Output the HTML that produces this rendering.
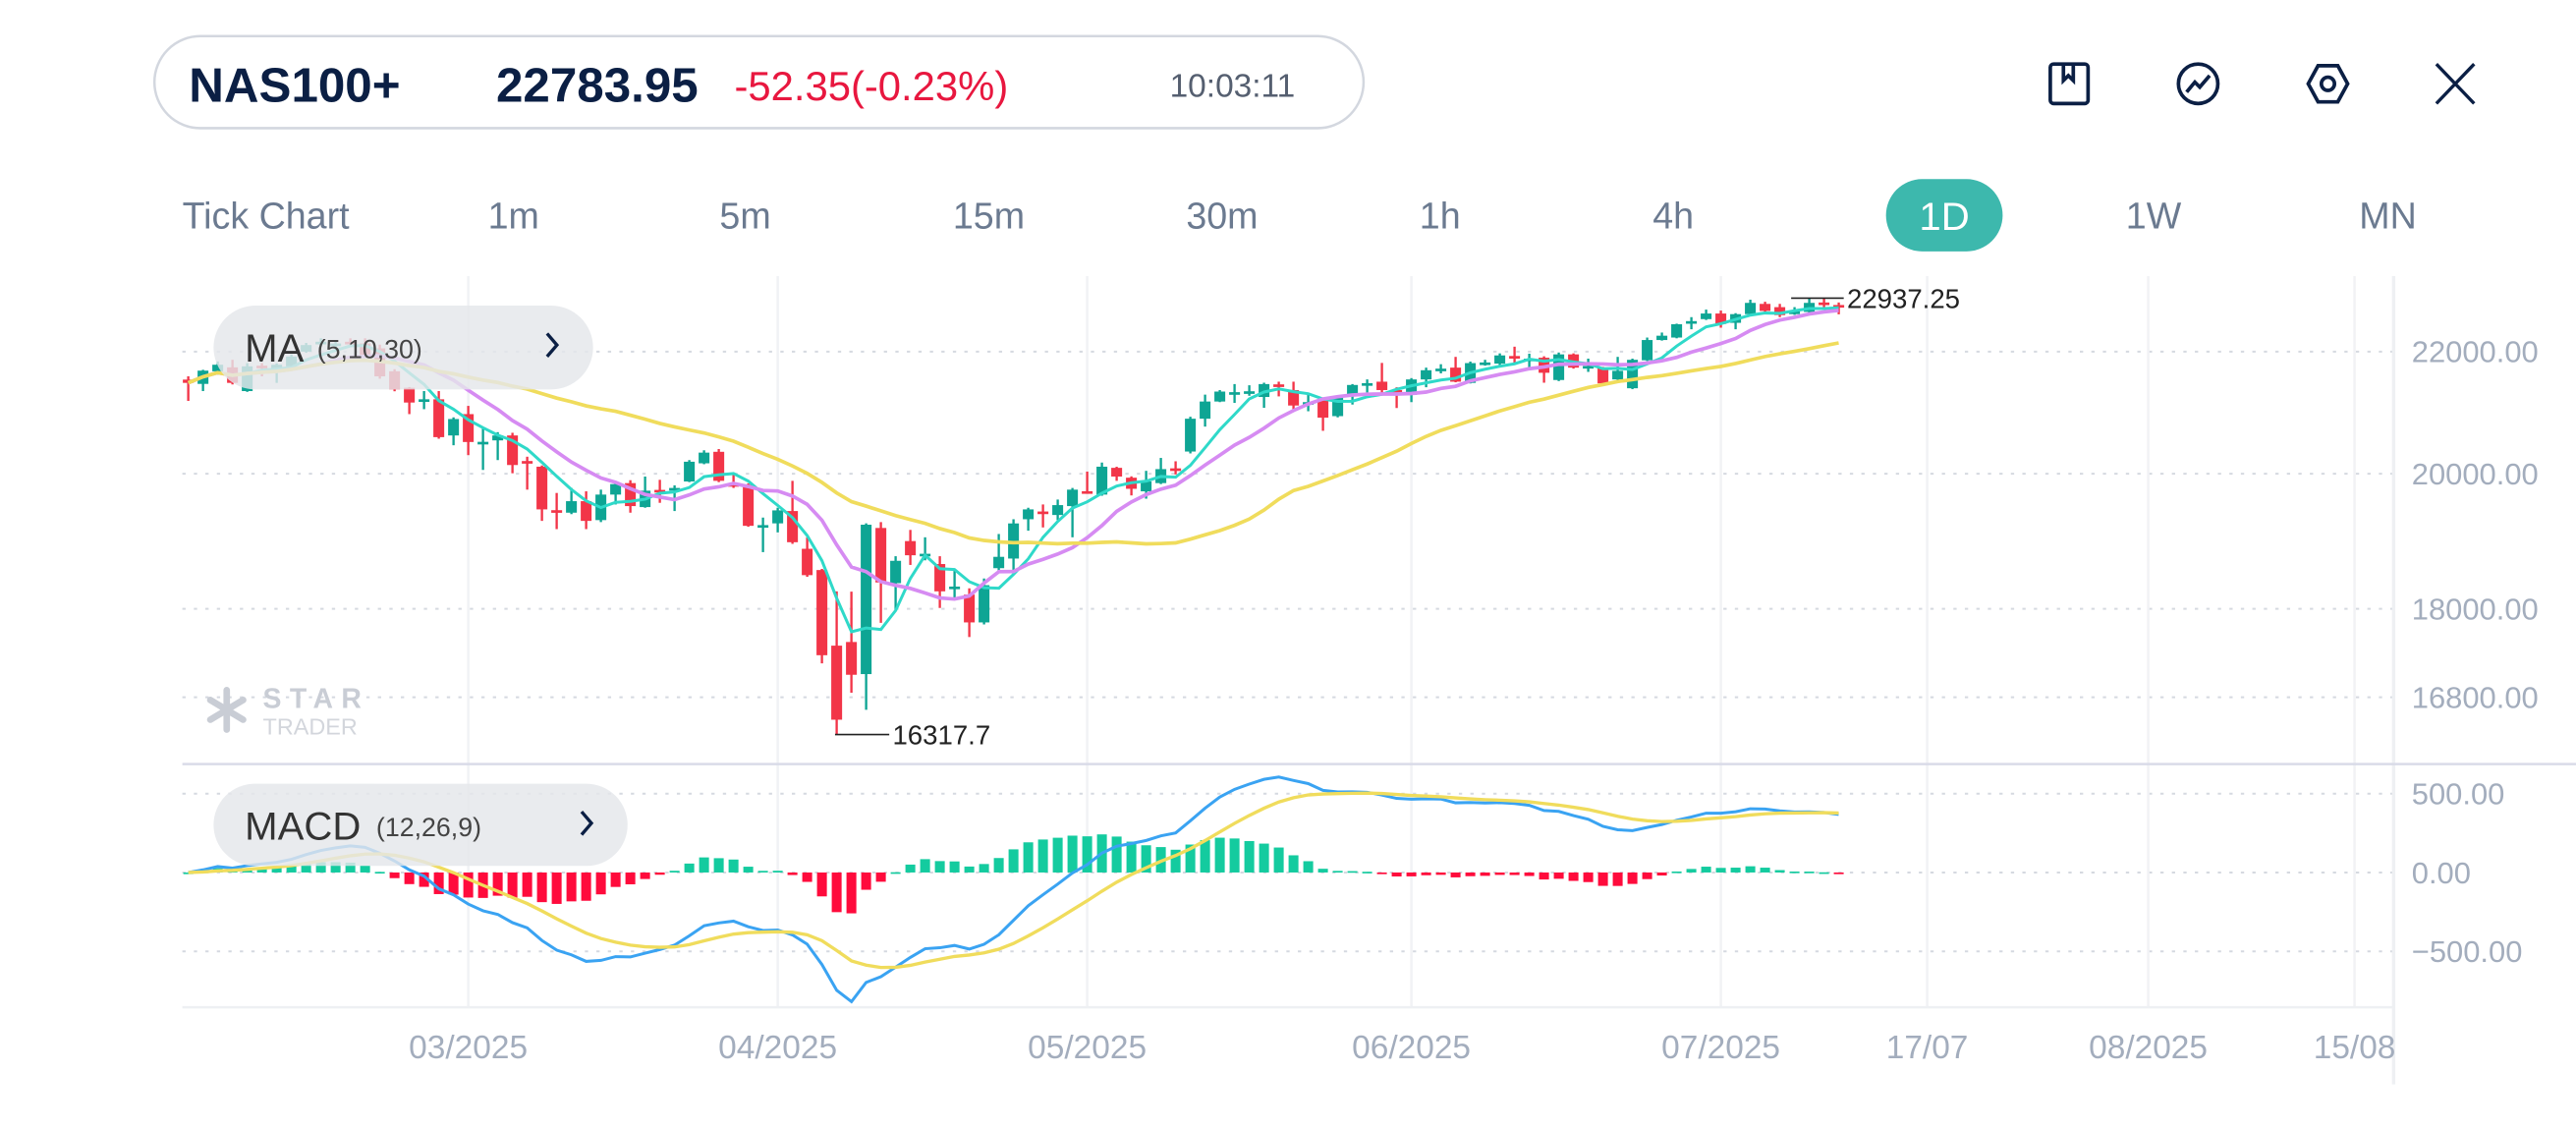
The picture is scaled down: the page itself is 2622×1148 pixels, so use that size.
<!DOCTYPE html>
<html><head><meta charset="utf-8"><style>
html,body{margin:0;padding:0;background:#fff;}
svg{display:block;}
text{font-family:"Liberation Sans",sans-serif;}
</style></head><body>
<svg id="chart" width="2622" height="1148" viewBox="0 0 1568 686.5" preserveAspectRatio="none" xmlns="http://www.w3.org/2000/svg">
<g>
<rect x="94" y="22" width="736" height="56" rx="28" fill="#fff" stroke="#d3d7df" stroke-width="1.5"/>
<text x="115" y="62" font-size="29.5" font-weight="bold" fill="#0b1f44">NAS100+</text>
<text x="302" y="62" font-size="29.5" font-weight="bold" fill="#0b1f44">22783.95</text>
<text x="447" y="61" font-size="25" fill="#e8173f">-52.35(-0.23%)</text>
<text x="712" y="59" font-size="20" fill="#555f70">10:03:11</text>
<g fill="none" stroke="#0b1f44" stroke-width="2.2"><rect x="1248" y="39" width="23" height="24" rx="2"/><path d="M1256 39v10l3-3 3 3V39"/></g>
<g fill="none" stroke="#0b1f44" stroke-width="2.2"><circle cx="1338" cy="51" r="12"/><path d="M1331 56l5-6 3 3 6-7"/></g>
<g fill="none" stroke="#0b1f44" stroke-width="2.2"><path d="M1411 40h12l6 11-6 11h-12l-6-11z"/><circle cx="1417" cy="51" r="4"/></g>
<g stroke="#0b1f44" stroke-width="2"><path d="M1483 39l23 24M1506 39l-23 24"/></g>
</g>
<g font-size="22.5" fill="#6b7a90">
<text x="111" y="139">Tick Chart</text>
<text x="297" y="139">1m</text>
<text x="438" y="139">5m</text>
<text x="580" y="139">15m</text>
<text x="722" y="139">30m</text>
<text x="864" y="139">1h</text>
<text x="1006" y="139">4h</text>
<rect x="1148" y="109" width="71" height="44" rx="22" fill="#3db8ad"/>
<text x="1183.5" y="140" text-anchor="middle" fill="#fff" font-size="24">1D</text>
<text x="1294" y="139">1W</text>
<text x="1436" y="139">MN</text>
</g>
<g id="grid"></g>
<g id="watermark" fill="#c9cdd5">
<g stroke="#c9cdd5" stroke-width="4" stroke-linecap="round"><path d="M138 420v24M128 426l20 12M148 426l-20 12"/></g>
<text x="160" y="431" font-size="17" font-weight="bold" letter-spacing="5">STAR</text>
<text x="160" y="447" font-size="14" fill="#d3d6dc">TRADER</text>
</g>
<g id="candles"></g>
<g id="malines"></g>
<g id="macd"></g>
<g id="axes"></g>
<g>
<rect x="130" y="186" width="231" height="51" rx="25.5" fill="#e4e6ea" fill-opacity="0.82"/>
<text x="149" y="220" font-size="24" fill="#333">MA</text>
<text x="193" y="218" font-size="16" fill="#444">(5,10,30)</text>
<path d="M333 203l6 7-6 7" fill="none" stroke="#0b1f44" stroke-width="2"/>
</g>
<g>
<rect x="130" y="477" width="252" height="50" rx="25" fill="#e4e6ea" fill-opacity="0.82"/>
<text x="149" y="511" font-size="24" fill="#333">MACD</text>
<text x="229" y="509" font-size="16" fill="#444">(12,26,9)</text>
<path d="M354 494l6 7-6 7" fill="none" stroke="#0b1f44" stroke-width="2"/>
</g>
</svg>
<script>
const opens=[21525,21453,21665,21732,21333,21760,21720,21749,22000,22150,22110,22170,22140,22056,21665,21388,21180,21197,20607,20953,20490,20528,20607,20200,20111,19440,19402,19577,19290,19678,19855,19487,19750,19765,19880,20164,20346,19840,19830,19190,19241,19427,18863,18553,17490,17540,17106,19172,18364,18977,18775,18640,18300,18201,17810,18580,18720,19303,19420,19367,19502,19730,19678,20093,19939,19728,19855,20085,20350,20878,21160,21300,21318,21235,21445,21350,21140,21180,20920,21245,21455,21490,21350,21271,21528,21700,21727,21470,21805,21795,21925,21870,21896,21518,21953,21745,21727,21528,21380,21852,22200,22243,22515,22565,22664,22500,22653,22835,22777,22653,22693,22860,22815];
const highs=[21580,21690,21832,21860,21804,21804,21800,21950,22150,22230,22200,22230,22230,22120,21700,21400,21333,21333,20900,21088,20714,20660,20650,20268,20130,19703,19779,19728,19754,19880,19900,19957,19906,19820,20215,20370,20390,20008,19850,19328,19477,19890,19033,18570,18247,18243,19241,19260,18754,19143,19033,18754,18550,18290,18431,19082,19303,19477,19527,19602,19780,20034,20176,20110,19960,20046,20249,20196,20910,21274,21350,21450,21430,21473,21490,21490,21287,21200,21260,21450,21528,21807,21397,21550,21727,21785,21910,21830,21860,21970,22085,21965,21920,21985,21970,21880,21740,21910,21880,22243,22330,22485,22600,22733,22716,22670,22910,22873,22835,22777,22937,22937,22860];
const lows=[21170,21333,21608,21444,21320,21580,21470,21700,21980,22100,22080,22120,21900,21540,21330,20953,21034,20555,20450,20293,20060,20215,20008,19754,19278,19155,19380,19155,19260,19527,19402,19477,19552,19427,19870,20150,19870,19780,19190,18814,19106,18936,18455,17250,16318,16860,16636,17805,17966,18627,18694,18012,18155,17608,17782,18527,18515,19131,19180,19290,19033,19690,19660,19890,19665,19615,19840,19990,20320,20750,21150,21137,21255,21056,21245,21029,21000,20682,20900,21110,21310,21271,21053,21150,21397,21630,21480,21460,21760,21743,21785,21727,21473,21500,21710,21655,21435,21520,21365,21840,22190,22230,22387,22550,22415,22387,22640,22693,22600,22640,22680,22733,22650];
const closes=[21470,21676,21776,21470,21749,21740,21776,21916,22113,22170,22140,22160,21944,21580,21360,21143,21197,20580,20873,20502,20505,20607,20137,20190,19452,19420,19577,19278,19678,19840,19502,19738,19730,19780,20189,20333,19890,19820,19204,19215,19437,18960,18479,17360,16508,17097,19221,18374,18687,18768,18790,18247,18315,17810,18335,18745,19240,19452,19395,19517,19754,19715,20111,19957,19767,19880,20073,20065,20878,21160,21325,21315,21330,21450,21430,21094,21150,20895,21245,21435,21465,21350,21322,21528,21683,21710,21490,21804,21815,21935,21916,21880,21640,21953,21727,21755,21462,21673,21860,22200,22275,22475,22530,22664,22480,22653,22853,22710,22636,22710,22853,22845,22784];
const priceTicks=[22000,20000,18000,16800];
const macdTicks=[500,0,-500];
const dateLabels=["03/2025","04/2025","05/2025","06/2025","07/2025","17/07","08/2025","15/08"];
const dateSlots=[19,40,61,83,104,118,133,147];
const maPeriods=[5,10,30];
const maxLabel="22937.25", minLabel="16317.7";

const NS="http://www.w3.org/2000/svg";
const X0=114.6, DX=8.97;
function xAt(i){return X0+i*DX;}
function yP(p){return 214-780*Math.log(p/22000);}
function yM(v){return 531-v*0.096;}
function mk(tag,attrs,parent){const e=document.createElementNS(NS,tag);for(const k in attrs)e.setAttribute(k,attrs[k]);parent.appendChild(e);return e;}
const grid=document.getElementById('grid'), axes=document.getElementById('axes');
priceTicks.forEach(t=>{
 const l=mk('line',{x1:111,x2:1457,y1:yP(t),y2:yP(t),stroke:'#d5d9e0','stroke-width':1.2,'stroke-dasharray':'2 5'},grid);
 
 
 const tx=mk('text',{x:1468,y:yP(t)+6.5,'font-size':18.5,fill:'#a3adbd'},axes);tx.textContent=t.toFixed(2);
 
 
});
macdTicks.forEach(t=>{
 const l=mk('line',{x1:111,x2:1457,y1:yM(t),y2:yM(t),stroke:'#d5d9e0','stroke-width':1.2,'stroke-dasharray':'2 5'},grid);
 
 
 const tx=mk('text',{x:1468,y:yM(t)+6.5,'font-size':18.5,fill:'#a3adbd'},axes);tx.textContent=t.toFixed(2).replace('-','\u2212');
 
 
});
dateLabels.forEach((d,k)=>{
 const x=xAt(dateSlots[k]);
 const l=mk('line',{x1:x,x2:x,y1:168,y2:613,stroke:'#f1f2f5','stroke-width':1.5},grid);
 
 
 const tx=mk('text',{x:x,y:644,'font-size':20,fill:'#a3adbd','text-anchor':'middle'},axes);tx.textContent=d;
 
 
});
mk('line',{x1:1457,x2:1457,y1:168,y2:660,stroke:'#eef0f3','stroke-width':2},grid);
mk('line',{x1:111,x2:1568,y1:465,y2:465,stroke:'#d9dbe8','stroke-width':1.5},grid);
mk('line',{x1:111,x2:1457,y1:613,y2:613,stroke:'#eef0f3','stroke-width':1.5},grid);

const cg=document.getElementById('candles');
closes.forEach((c,i)=>{
 const o=opens[i],up=c>=o,col=up?'#0ea594':'#f23548',x=xAt(i);
 const w=mk('line',{x1:x,x2:x,y1:yP(highs[i]),y2:yP(lows[i]),stroke:col,'stroke-width':1.4},cg);
 
 
 const t=yP(Math.max(o,c)),b=yP(Math.min(o,c));
 const r=mk('rect',{x:x-3.3,y:t,width:6.6,height:Math.max(1.6,b-t),fill:col},cg);
 
 
});
let hi=0,lo=0;highs.forEach((h,i)=>{if(h>=highs[hi])hi=i;});lows.forEach((l,i)=>{if(l<lows[lo])lo=i;});
mk('line',{x1:xAt(hi)-20,x2:xAt(hi)+12,y1:yP(highs[hi]),y2:yP(highs[hi]),stroke:'#222','stroke-width':1},cg);
let ht=mk('text',{x:xAt(hi)+14,y:yP(highs[hi])+6,'font-size':16.5,fill:'#222'},cg);ht.textContent=maxLabel;


mk('line',{x1:xAt(lo)-1,x2:xAt(lo)+32,y1:yP(lows[lo]),y2:yP(lows[lo]),stroke:'#222','stroke-width':1},cg);
let lt=mk('text',{x:xAt(lo)+34,y:yP(lows[lo])+6,'font-size':16.5,fill:'#222'},cg);lt.textContent=minLabel;



const mg=document.getElementById('malines');
const maCols=['#2fd9c9','#d68bf2','#f0dc5c'],maW=[1.8,2.2,2.2];
maPeriods.forEach((n,k)=>{
 const pts=closes.map((c,i)=>{const s=closes.slice(Math.max(0,i-n+1),i+1);const a=s.reduce((p,q)=>p+q,0)/s.length;return xAt(i).toFixed(1)+','+yP(a).toFixed(1);});
 const p=mk('polyline',{points:pts.join(' '),fill:'none',stroke:maCols[k],'stroke-width':maW[k]},mg);
 
 
});

const mc=document.getElementById('macd');
function ema(arr,n){const a=2/(n+1);let out=[],v=arr[0];arr.forEach((x,i)=>{v=i?a*x+(1-a)*v:x;out.push(v);});return out;}
const e12=ema(closes,12),e26=ema(closes,26);
const dif=e12.map((v,i)=>v-e26[i]);
const dea=ema(dif,9);
dif.forEach((d,i)=>{
 const h=d-dea[i],x=xAt(i);
 const y1=yM(Math.max(h,0)),y2=yM(Math.min(h,0));
 const r=mk('rect',{x:x-3,y:y1,width:6,height:Math.max(1,y2-y1),fill:h>=0?'#14cb9f':'#ff0b3c'},mc);
 
 
});
let p1=mk('polyline',{points:dif.map((v,i)=>xAt(i).toFixed(1)+','+yM(v).toFixed(1)).join(' '),fill:'none',stroke:'#3aa3f2','stroke-width':1.8},mc);


let p2=mk('polyline',{points:dea.map((v,i)=>xAt(i).toFixed(1)+','+yM(v).toFixed(1)).join(' '),fill:'none',stroke:'#f0dc5c','stroke-width':2},mc);


</script>
</body></html>
